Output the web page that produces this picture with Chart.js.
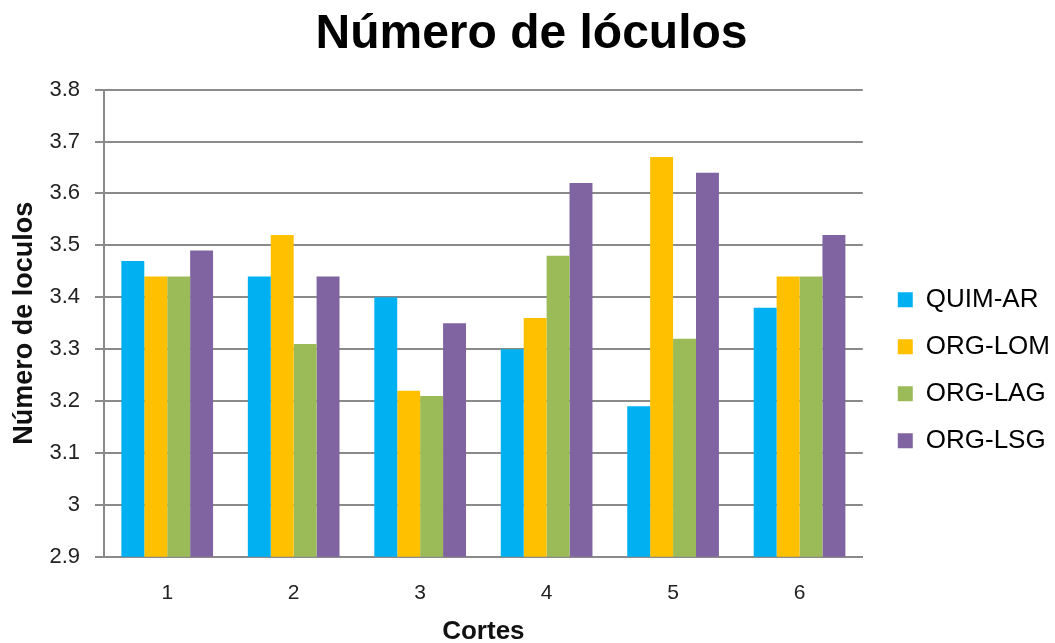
<!DOCTYPE html>
<html>
<head>
<meta charset="utf-8">
<script src="https://cdn.jsdelivr.net/npm/chart.js@4/dist/chart.umd.min.js"></script>
<style>
  html, body { margin: 0; padding: 0; background: #fff; }
  #wrap { width: 1055px; height: 643px; position: relative; }
</style>
</head>
<body>
<div id="wrap"><canvas id="chart"></canvas></div>
<script>
// data
const cortes = ["1", "2", "3", "4", "5", "6"];
const quimAR = [3.47, 3.44, 3.40, 3.30, 3.19, 3.38];
const orgLOM = [3.44, 3.52, 3.22, 3.36, 3.67, 3.44];
const orgLAG = [3.44, 3.31, 3.21, 3.48, 3.32, 3.44];
const orgLSG = [3.49, 3.44, 3.35, 3.62, 3.64, 3.52];

const seriesNames = ["QUIM-AR", "ORG-LOM", "ORG-LAG", "ORG-LSG"];
const seriesColors = ["#00B0F0", "#FFC000", "#9BBB59", "#8064A2"];
const yMin = 2.9, yMax = 3.8, yStep = 0.1;

const gridColor = "#8a8a8a";
const font = "'Liberation Sans', Arial, sans-serif";

// legend sits a bit further from the plot and lower than chart.js puts it
const LEG_GAP = 9;
const LEG_DX = 5;
const LEG_DY = 47;
const legendNudge = {
  id: "legendNudge",
  beforeLayout(chart) {
    const lg = chart.legend;
    if (lg && !lg._gapPatched) {
      const fit = lg.fit;
      lg.fit = function () { fit.call(this); this.width += LEG_GAP; };
      lg._gapPatched = true;
    }
  },
  afterLayout(chart) {
    const lg = chart.legend;
    if (!lg) return;
    lg.left += LEG_GAP + LEG_DX;
    lg.top += LEG_DY;
    lg.bottom += LEG_DY;
  }
};

const ctx = document.getElementById("chart").getContext("2d");
new Chart(ctx, {
  type: "bar",
  data: {
    labels: cortes,
    datasets: [quimAR, orgLOM, orgLAG, orgLSG].map((d, i) => ({
      label: seriesNames[i],
      data: d,
      backgroundColor: seriesColors[i],
      borderWidth: 0,
      barPercentage: 1,
      categoryPercentage: 0.725
    }))
  },
  plugins: [legendNudge],
  options: {
    responsive: true,
    maintainAspectRatio: false,
    animation: false,
    layout: { padding: { left: 8, right: 0, top: 2, bottom: 0 } },
    plugins: {
      title: {
        display: true,
        text: "Número de lóculos",
        color: "#000",
        font: { family: font, size: 48, weight: "bold" },
        padding: { top: 4, bottom: 26 }
      },
      legend: {
        position: "right",
        align: "center",
        fullSize: false,
        labels: {
          color: "#000",
          font: { family: font, size: 26 },
          boxWidth: 15,
          boxHeight: 15,
          padding: 21
        }
      },
      tooltip: { enabled: false }
    },
    scales: {
      x: {
        grid: { display: false, drawTicks: false },
        border: { display: true, color: gridColor, width: 2 },
        ticks: { color: "#222", font: { family: font, size: 21 }, padding: 24 },
        title: {
          display: true,
          text: "Cortes",
          color: "#111",
          font: { family: font, size: 26, weight: "bold", lineHeight: 1 },
          padding: { top: -11, bottom: -2 }
        }
      },
      y: {
        min: yMin,
        max: yMax,
        grid: { color: gridColor, lineWidth: 2, tickLength: 9, drawTicks: true },
        border: { display: true, color: gridColor, width: 2 },
        ticks: {
          stepSize: yStep,
          color: "#222",
          font: { family: font, size: 22 },
          padding: 15,
          callback: (v) => String(Number(v.toFixed(1)))
        },
        title: {
          display: true,
          text: "Número de loculos",
          color: "#111",
          font: { family: font, size: 27, weight: "bold" },
          padding: { top: 0, bottom: -6 }
        }
      }
    }
  }
});
</script>
</body>
</html>
